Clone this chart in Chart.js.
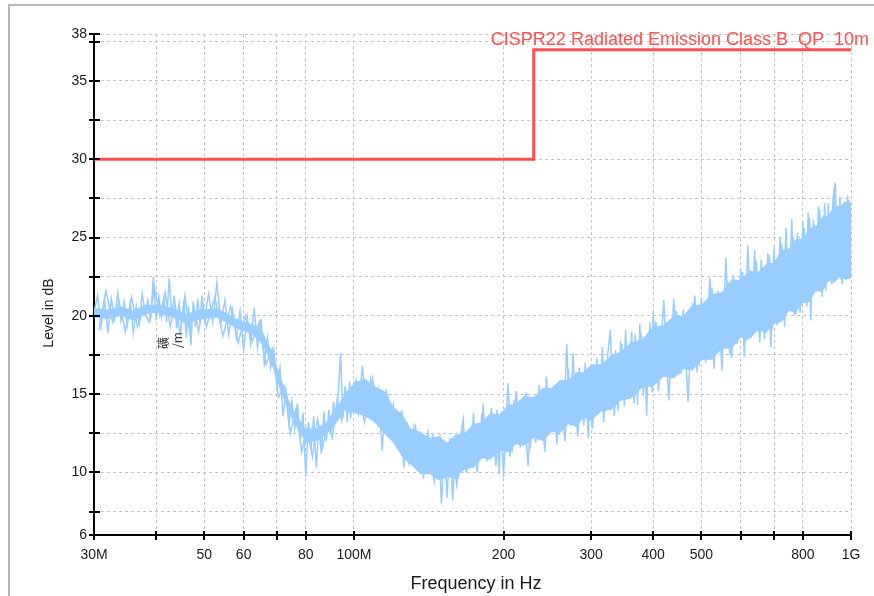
<!DOCTYPE html>
<html>
<head>
<meta charset="utf-8">
<script src="https://cdn.jsdelivr.net/npm/chart.js@4.4.0/dist/chart.umd.min.js"></script>
<style>
html,body{margin:0;padding:0;background:#fff}
#wrap{width:874px;height:596px}
</style>
</head>
<body>
<div id="wrap"><canvas id="chart" width="874" height="596"></canvas></div>
<script>
// axis ticks
const xTicks=[30,40,50,60,70,80,100,200,300,400,500,600,700,800,1000];
const xTickLabels=['30M','','50','60','','80','100M','200','300','400','500','','','800','1G'];
const yTicks=[6,7.5,10,12.5,15,17.5,20,22.5,25,27.5,30,32.5,35,37.5,38];
const yTickLabels=['6','','10','','15','','20','','25','','30','','35','','38'];

// limit line (CISPR22 class B QP 10m)
const limitFreq=[30,230,230,1000];
const limitLevel=[30,30,37,37];
const limitLabel='CISPR22 Radiated Emission Class B  QP  10m';

// measured trace, pass 1 (MHz / dB)
const traceFreq=[30,30.5,31,31.5,32,32.5,33,33.5,34,34.5,35,35.5,36,36.5,37,37.5,38,38.5,39,39.5,40,40.5,41,41.5,42,42.5,43,43.5,44,44.5,45,45.5,46,46.5,47,47.5,48,48.5,49,49.5,50,
51,52,53,54,55,56,57,58,59,60,61,62,63,64,65,66,67,68,69,70,71,72,73,74,75,76,77,78,79,80,81,82,83,84,85,86,87,88,89,90,91,92,93,94,95,96,97,98,99,100,
102,104,106,108,110,112,114,116,118,120,122,124,126,128,130,132,134,136,138,140,142,144,146,148,150,152,154,156,158,160,162,164,166,168,170,172,174,176,178,180,182,184,186,188,190,192,194,196,198,200,
204,208,212,216,220,224,228,232,236,240,244,248,252,256,260,264,268,272,276,280,284,288,292,296,300,304,308,312,316,320,324,328,332,336,340,344,348,352,356,360,364,368,372,376,380,384,388,392,396,400,
410,420,430,440,450,460,470,480,490,500,510,520,530,540,550,560,570,580,590,600,610,620,630,640,650,660,670,680,690,700,710,720,730,740,750,760,770,780,790,800,810,820,830,840,850,860,870,880,890,900,910,920,930,940,950,960,970,980,990,1000];
const traceLevel=[20.2,21.3,19.3,21.0,18.9,21.1,19.8,21.5,19.7,20.9,19.4,20.8,18.9,20.6,19.5,21.4,20.2,21.0,19.9,22.5,19.7,21.2,19.9,21.0,19.6,22.4,20.0,21.3,19.2,20.8,19.4,21.0,18.6,20.6,18.1,20.9,19.3,21.1,19.6,21.3,19.8,
21.4,19.6,22.1,19.5,21.0,18.8,20.4,18.6,20.3,17.8,19.9,18.2,20.5,18.0,19.8,17.0,18.6,16.7,17.8,15.5,16.7,13.6,15.2,13.1,14.6,12.8,14.4,12.1,13.8,9.7,13.2,11.5,13.6,10.3,13.0,11.2,13.9,12.0,14.0,12.5,14.5,13.2,15.0,17.6,13.5,15.5,13.2,15.8,14.0,15.6,
13.8,16.8,14.0,15.9,13.4,15.2,11.4,15.3,12.6,14.3,11.9,13.9,10.3,13.2,11.0,12.8,10.5,12.6,9.6,12.2,10.0,12.5,9.7,11.9,8.0,11.6,8.4,12.2,8.2,11.8,9.6,12.4,13.4,10.0,12.5,10.3,13.8,10.6,12.9,10.9,14.4,11.0,13.3,11.3,13.6,11.0,14.0,9.9,13.5,9.7,
15.7,11.3,15.2,11.6,14.4,10.4,14.6,11.9,15.6,12.0,16.1,12.5,15.3,11.8,15.8,12.8,18.2,13.0,17.6,12.9,16.7,13.5,17.0,12.2,16.8,13.6,17.3,13.9,18.0,14.0,17.5,19.1,14.2,17.8,13.9,18.4,14.6,19.1,15.0,18.2,15.1,18.8,14.3,19.5,15.5,18.6,13.6,19.0,15.8,20.2,
15.2,21.0,14.6,21.1,16.2,20.4,14.5,20.8,16.4,21.2,17.0,22.4,16.6,21.6,16.5,23.7,17.5,22.6,18.2,23.0,17.4,24.5,18.6,24.2,19.0,23.6,18.5,24.0,18.0,24.4,19.4,25.0,20.0,25.6,20.4,26.2,20.0,25.3,20.2,26.0,21.0,26.6,19.7,26.1,21.5,27.0,22.0,26.4,21.6,27.2,22.8,27.5,28.5,22.6,27.6,22.0,27.3,22.4,27.4,23.0];

// measured trace, pass 2 (in-between sweep points)
const trace2Freq=[30.7,31.7,32.7,33.7,34.7,35.7,36.7,37.7,38.7,39.7,40.7,41.7,42.7,43.7,44.7,45.7,46.7,47.7,48.7,49.7,
50.5,52.5,54.5,56.5,58.5,60.5,62.5,64.5,66.5,68.5,70.5,72.5,74.5,76.5,78.5,80.5,82.5,84.5,86.5,88.5,90.5,92.5,94.5,96.5,98.5,
101,105,109,113,117,121,125,129,133,137,141,145,149,153,157,161,165,169,173,177,181,185,189,193,197,
202,206,210,214,218,222,226,230,234,238,242,246,250,254,258,262,266,270,274,278,282,286,290,294,298,302,306,310,314,318,322,326,330,334,338,342,346,350,354,358,362,366,370,374,378,382,386,390,394,398,
405,415,425,435,445,455,465,475,485,495,505,515,525,535,545,555,565,575,585,595,605,615,625,635,645,655,665,675,685,695,705,715,725,735,745,755,765,775,785,795,805,815,825,835,845,855,865,875,885,895,905,915,925,935,945,955,965,975,985,995];
const trace2Level=[19.1,21.6,19.6,20.9,19.0,21.2,19.3,20.4,19.6,21.8,20.0,21.5,19.3,20.7,18.9,21.3,19.0,20.5,19.0,20.6,
19.3,21.2,18.7,20.6,18.3,20.0,18.4,19.6,16.9,17.9,14.8,15.5,12.5,14.1,11.3,12.8,11.0,13.4,11.6,13.2,12.2,14.6,13.3,15.1,13.6,
15.9,13.2,16.0,13.0,14.9,12.1,13.8,10.6,12.9,10.4,12.6,9.4,12.3,9.8,12.0,9.2,12.7,10.2,12.9,10.0,13.8,10.7,14.1,10.4,13.2,
13.9,11.0,14.6,12.0,13.0,15.1,11.5,13.9,12.3,14.9,11.3,14.2,13.1,15.6,12.4,14.0,12.0,16.6,13.8,15.2,12.3,15.9,13.0,16.0,14.1,12.8,16.5,14.0,16.8,13.2,16.0,14.5,17.6,13.6,16.3,15.0,18.2,14.2,17.0,15.5,19.0,14.4,17.6,15.9,18.9,14.9,17.8,16.0,19.6,15.1,
19.6,16.4,19.2,17.0,20.3,16.3,19.7,17.3,21.3,16.8,20.3,17.2,21.8,17.8,20.6,18.3,22.2,17.3,21.6,18.9,22.8,18.4,21.9,19.6,23.5,18.3,22.5,19.8,23.9,19.2,23.0,20.3,24.6,19.3,24.2,21.0,25.0,20.1,24.3,21.4,25.6,20.6,26.3,21.9,25.8,22.7,26.8,21.2,27.2,23.0,26.0,22.0,28.2,23.4,27.0,22.3,26.6,22.9,27.7,22.6];

// dense core of the trace (envelope), MHz / dB
const bandFreq=[30,32,34,36,38,40,42,44,46,48,50,53,56,59,62,65,68,71,74,77,80,84,88,92,96,100,105,110,115,120,125,130,136,142,148,154,160,167,174,181,188,196,204,212,220,230,240,250,260,270,280,290,300,315,330,345,360,380,400,420,440,460,480,500,525,550,575,600,625,650,675,700,725,750,775,800,825,850,875,900,925,950,975,1000];
const bandHigh=[20.5,20.4,20.6,20.3,20.7,20.7,20.6,20.4,20.1,20.3,20.4,20.5,20.1,19.7,19.5,19.2,17.9,16.2,14.6,13.5,12.8,12.8,13.2,14.1,15.0,15.7,16.0,15.5,15.2,14.2,13.7,12.8,12.6,12.2,12.3,11.9,12.4,12.5,13.1,13.2,13.8,13.7,14.3,14.4,14.9,14.8,15.4,15.4,15.9,15.9,16.4,16.4,16.9,16.9,17.5,17.7,18.3,18.5,19.3,19.4,20.0,20.0,20.7,20.7,21.4,21.5,22.3,22.3,22.9,22.8,23.3,23.4,24.2,24.3,24.9,24.9,25.6,25.7,26.3,26.4,27.0,27.0,27.3,27.2];
const bandLow=[19.9,19.8,20.0,19.7,20.1,20.2,20.0,19.8,19.5,19.7,19.8,19.9,19.5,19.1,18.9,18.3,17.1,15.3,13.8,12.8,11.9,12.0,12.4,13.1,14.0,13.8,13.6,13.2,12.5,11.9,11.0,10.5,9.9,9.9,9.5,9.7,9.6,10.2,10.3,10.9,10.8,11.4,11.3,11.8,11.7,12.2,12.0,12.6,12.5,13.1,12.9,13.5,13.3,13.9,14.0,14.6,14.7,15.4,15.5,16.1,16.0,16.6,16.5,17.2,17.2,17.9,17.9,18.6,18.5,19.1,18.9,19.5,19.6,20.3,20.2,20.8,20.9,21.6,21.5,22.2,22.1,22.5,22.3,22.4];

const FONT='"Liberation Sans", Arial, sans-serif';
const INK='#1a1a1a';
const BLUE='#99ccff';
const RED='#ff4f4f';
const GRID='#c4c4c4';

const pts=(xs,ys)=>xs.map((x,i)=>({x,y:ys[i]}));

const decor={
  id:'decor',
  beforeDraw(chart){
    const ctx=chart.ctx;
    ctx.save();
    ctx.fillStyle='#fff';ctx.fillRect(0,0,chart.width,chart.height);
    ctx.strokeStyle='#b8b8b8';ctx.lineWidth=2;
    ctx.beginPath();ctx.moveTo(9,chart.height);ctx.lineTo(9,5);ctx.lineTo(chart.width,5);ctx.stroke();
    ctx.restore();
  },
  afterDraw(chart){
    const ctx=chart.ctx, xs=chart.scales.x, ys=chart.scales.y, a=chart.chartArea;
    ctx.save();
    // ticks crossing the axes
    ctx.strokeStyle='#000';ctx.lineWidth=2;
    yTicks.forEach(v=>{const y=Math.round(ys.getPixelForValue(v));ctx.beginPath();ctx.moveTo(a.left-5,y);ctx.lineTo(a.left+6,y);ctx.stroke();});
    xTicks.forEach(v=>{const x=Math.round(xs.getPixelForValue(v));ctx.beginPath();ctx.moveTo(x,a.bottom-4);ctx.lineTo(x,a.bottom+5);ctx.stroke();});
    // axis titles
    ctx.fillStyle=INK;ctx.textAlign='center';ctx.textBaseline='middle';
    ctx.font=`18px ${FONT}`;
    ctx.fillText('Frequency in Hz',476,584);
    ctx.save();ctx.translate(49,313);ctx.rotate(-Math.PI/2);
    ctx.font=`14px ${FONT}`;ctx.fillText('Level in dB',0,0);ctx.restore();
    // limit label
    ctx.fillStyle=RED;ctx.font=`18px ${FONT}`;ctx.textAlign='right';ctx.textBaseline='alphabetic';
    ctx.fillText(limitLabel,869,45);
    // stray unit label
    ctx.save();ctx.translate(157,349);ctx.rotate(-Math.PI/2);
    ctx.fillStyle='#333';ctx.textAlign='left';ctx.textBaseline='top';
    ctx.font='12px "Noto Sans CJK SC", sans-serif';
    ctx.fillText('礦',0,0);ctx.fillText('/m',1,14);
    ctx.restore();
    ctx.restore();
  }
};

new Chart(document.getElementById('chart'),{
  type:'line',
  data:{datasets:[
    {data:pts(bandFreq,bandHigh),borderWidth:0,pointRadius:0,fill:false,borderColor:BLUE},
    {data:pts(bandFreq,bandLow),borderWidth:0,pointRadius:0,fill:'-1',backgroundColor:BLUE,borderColor:BLUE},
    {data:pts(traceFreq,traceLevel),borderColor:BLUE,borderWidth:1.5,pointRadius:0,fill:false,tension:0},
    {data:pts(trace2Freq,trace2Level),borderColor:BLUE,borderWidth:1.5,pointRadius:0,fill:false,tension:0},
    {data:pts(limitFreq,limitLevel),borderColor:RED,borderWidth:3,pointRadius:0,fill:false,tension:0}
  ]},
  options:{
    responsive:false,animation:false,devicePixelRatio:1,
    layout:{padding:{top:34,right:23,left:0,bottom:0}},
    plugins:{legend:{display:false},tooltip:{enabled:false}},
    scales:{
      x:{type:'logarithmic',min:30,max:1000,
        afterFit:s=>{s.height=61;},
        afterBuildTicks:s=>{s.ticks=xTicks.map(v=>({value:v}));},
        ticks:{callback:(v,i)=>xTickLabels[i],autoSkip:false,maxRotation:0,minRotation:0,padding:12,color:INK,font:{family:FONT,size:14}},
        grid:{color:GRID,lineWidth:1,drawTicks:false},
        border:{display:true,color:'#000',width:2,dash:[3,3]}},
      y:{type:'linear',min:6,max:38,
        afterFit:s=>{s.width=94;},
        afterBuildTicks:s=>{s.ticks=yTicks.map(v=>({value:v}));},
        ticks:{callback:(v,i)=>yTickLabels[i],autoSkip:false,padding:7,color:INK,font:{family:FONT,size:14}},
        grid:{color:GRID,lineWidth:1,drawTicks:false},
        border:{display:true,color:'#000',width:2,dash:[3,3]}}
    }
  },
  plugins:[decor]
});
</script>
</body>
</html>
